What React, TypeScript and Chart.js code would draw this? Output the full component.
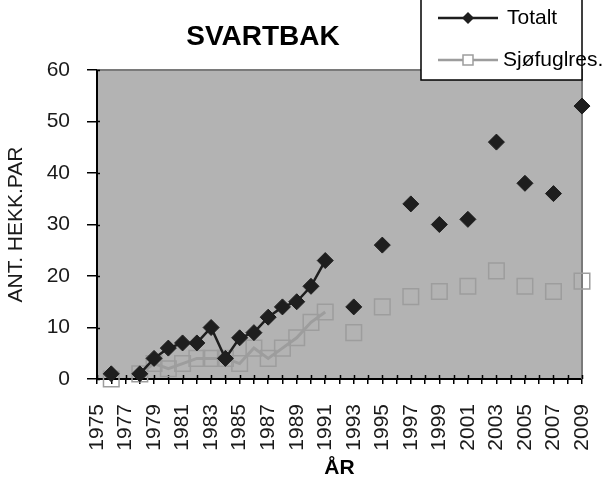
import React, { useEffect, useRef } from 'react';
import { Chart, registerables } from 'chart.js';
Chart.register(...registerables);

const years = ['1975','1976','1977','1978','1979','1980','1981','1982','1983','1984','1985','1986','1987','1988','1989','1990','1991','1992','1993','1994','1995','1996','1997','1998','1999','2000','2001','2002','2003','2004','2005','2006','2007','2008','2009'];

const totaltYears = ['1976','1978','1979','1980','1981','1982','1983','1984','1985','1986','1987','1988','1989','1990','1991','1993','1995','1997','1999','2001','2003','2005','2007','2009'];
const totaltValues = [1,1,4,6,7,7,10,4,8,9,12,14,15,18,23,14,26,34,30,31,46,38,36,53];

const sjoYears = ['1976','1978','1979','1980','1981','1982','1983','1984','1985','1986','1987','1988','1989','1990','1991','1993','1995','1997','1999','2001','2003','2005','2007','2009'];
const sjoValues = [0,1,3,2,3,4,4,4,3,6,4,6,8,11,13,9,14,16,17,18,21,18,17,19];

const yTicks = [0, 10, 20, 30, 40, 50, 60];

const chartTitle = 'SVARTBAK';
const yTitle = 'ANT. HEKK.PAR';
const xTitle = 'ÅR';
const seriesNames = ['Totalt', 'Sjøfuglres.'];

const FONT = '"Liberation Sans", Arial, sans-serif';

function toSeries(ys: string[], vs: number[]) {
  return years.map((y) => {
    const i = ys.indexOf(y);
    return i >= 0 ? vs[i] : null;
  });
}

const decorPlugin = {
  id: 'decor',
  beforeDraw(chart: any) {
    const { ctx, chartArea } = chart;
    ctx.save();
    ctx.fillStyle = '#ffffff';
    ctx.fillRect(0, 0, chart.width, chart.height);
    ctx.fillStyle = '#b3b3b3';
    ctx.fillRect(chartArea.left, chartArea.top, chartArea.right - chartArea.left, chartArea.bottom - chartArea.top);
    ctx.restore();
  },
  beforeDatasetsDraw(chart: any) {
    const { ctx, chartArea } = chart;
    ctx.save();
    ctx.strokeStyle = '#7a7a7a';
    ctx.lineWidth = 2;
    ctx.beginPath();
    ctx.moveTo(chartArea.left, chartArea.top);
    ctx.lineTo(chartArea.right, chartArea.top);
    ctx.lineTo(chartArea.right, chartArea.bottom);
    ctx.stroke();
    ctx.strokeStyle = '#000';
    ctx.lineWidth = 1.5;
    const xs = chart.scales.x;
    for (let i = 0; i < years.length; i++) {
      const px = Math.round(xs.getPixelForValue(i)) + 0.5;
      ctx.beginPath();
      ctx.moveTo(px, chartArea.bottom);
      ctx.lineTo(px, chartArea.bottom - 4);
      ctx.stroke();
    }
    const ysc = chart.scales.y;
    yTicks.forEach((v) => {
      const py = Math.round(ysc.getPixelForValue(v)) + 0.5;
      ctx.beginPath();
      ctx.moveTo(chartArea.left, py);
      ctx.lineTo(chartArea.left + 3, py);
      ctx.stroke();
    });
    ctx.restore();
  },
  afterDraw(chart: any) {
    const { ctx } = chart;
    ctx.save();
    ctx.fillStyle = '#000';
    ctx.font = `bold 28px ${FONT}`;
    ctx.textAlign = 'center';
    ctx.textBaseline = 'middle';
    ctx.fillText(chartTitle, 263, 37);

    const lx = 421, ly = -2, lw = 161, lh = 82;
    ctx.fillStyle = '#fff';
    ctx.fillRect(lx, ly, lw, lh);
    ctx.strokeStyle = '#000';
    ctx.lineWidth = 1.5;
    ctx.strokeRect(lx, ly, lw, lh);

    ctx.strokeStyle = '#1e1e1e';
    ctx.lineWidth = 2.5;
    ctx.beginPath();
    ctx.moveTo(438, 18);
    ctx.lineTo(498, 18);
    ctx.stroke();
    ctx.fillStyle = '#1e1e1e';
    ctx.beginPath();
    ctx.moveTo(468, 12);
    ctx.lineTo(474, 18);
    ctx.lineTo(468, 24);
    ctx.lineTo(462, 18);
    ctx.closePath();
    ctx.fill();

    ctx.strokeStyle = '#9d9d9d';
    ctx.lineWidth = 2.5;
    ctx.beginPath();
    ctx.moveTo(438, 60);
    ctx.lineTo(498, 60);
    ctx.stroke();
    ctx.fillStyle = '#fff';
    ctx.fillRect(463, 55, 10, 10);
    ctx.strokeStyle = '#9d9d9d';
    ctx.lineWidth = 1.5;
    ctx.strokeRect(463, 55, 10, 10);

    ctx.fillStyle = '#000';
    ctx.font = `21px ${FONT}`;
    ctx.textAlign = 'left';
    ctx.textBaseline = 'middle';
    ctx.fillText(seriesNames[0], 507, 18);
    ctx.fillText(seriesNames[1], 503, 60);
    ctx.restore();
  },
};

export default function App() {
  const ref = useRef<HTMLCanvasElement | null>(null);
  useEffect(() => {
    if (!ref.current) return;
    const chart = new Chart(ref.current, {
      type: 'line',
      data: {
        labels: years,
        datasets: [
          {
            label: seriesNames[1],
            data: toSeries(sjoYears, sjoValues),
            borderColor: '#9d9d9d',
            borderWidth: 3,
            pointStyle: 'rect',
            pointRadius: 11,
            pointBorderWidth: 1.5,
            pointBorderColor: '#9d9d9d',
            pointBackgroundColor: 'rgba(0,0,0,0)',
            spanGaps: false,
            clip: false,
            order: 2,
          },
          {
            label: seriesNames[0],
            data: toSeries(totaltYears, totaltValues),
            borderColor: '#1e1e1e',
            borderWidth: 2.5,
            pointStyle: 'rectRot',
            pointRadius: 8,
            pointBorderWidth: 1,
            pointBorderColor: '#1e1e1e',
            pointBackgroundColor: '#1e1e1e',
            spanGaps: false,
            clip: false,
            order: 1,
          },
        ],
      },
      options: {
        responsive: false,
        animation: false,
        layout: { padding: { top: 70, right: 21, left: 0, bottom: 0 } },
        plugins: { legend: { display: false }, title: { display: false }, tooltip: { enabled: false } },
        scales: {
          x: {
            type: 'category',
            offset: false,
            border: { color: '#000', width: 2 },
            grid: { display: true, drawOnChartArea: false, drawTicks: true, tickLength: 5, color: '#000', lineWidth: 1.5 },
            ticks: {
              autoSkip: false,
              minRotation: 90,
              maxRotation: 90,
              padding: 20,
              color: '#1a1a1a',
              font: { family: FONT, size: 21 },
              callback: (_v: any, i: number) => (Number(years[i]) % 2 === 1 ? years[i] : ''),
            },
            title: { display: true, text: xTitle, color: '#000', font: { family: FONT, size: 21, weight: 'bold', lineHeight: 1 }, padding: { top: 0, bottom: -1 } },
            afterFit: (s: any) => { s.height = 99; s.paddingLeft = 0; s.paddingRight = 0; },
          },
          y: {
            min: 0,
            max: 60,
            border: { color: '#000', width: 2 },
            grid: { display: true, drawOnChartArea: false, drawTicks: true, tickLength: 10, color: '#000', lineWidth: 1.5 },
            ticks: {
              stepSize: 10,
              padding: 17,
              color: '#1a1a1a',
              font: { family: FONT, size: 21 },
            },
            title: { display: true, text: yTitle, color: '#1a1a1a', font: { family: FONT, size: 21, lineHeight: 1 }, padding: 6 },
            afterFit: (s: any) => { s.width = 97; s.paddingTop = 0; s.paddingBottom = 0; },
          },
        },
      },
      plugins: [decorPlugin],
    });
    return () => chart.destroy();
  }, []);
  return (
    <div style={{ position: 'fixed', left: 0, top: 0, width: 603, height: 478, background: '#fff' }}>
      <canvas ref={ref} width={603} height={478} />
    </div>
  );
}
